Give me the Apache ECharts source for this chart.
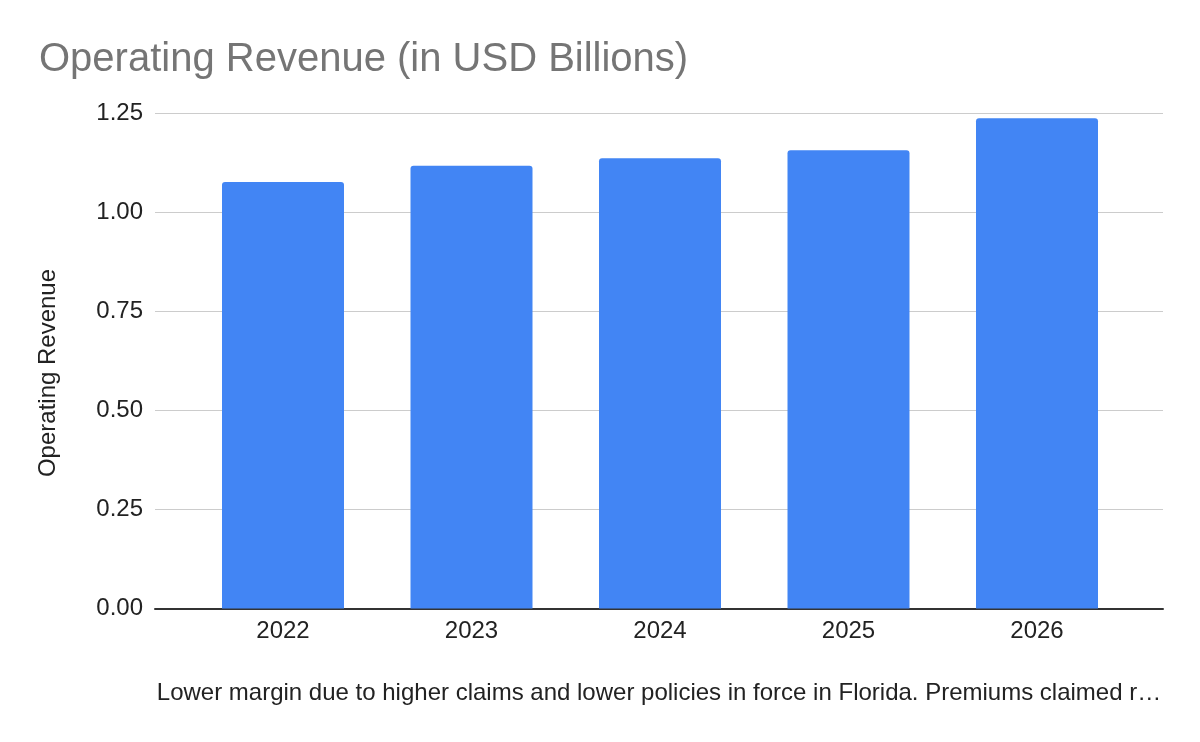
<!DOCTYPE html>
<html>
<head>
<meta charset="utf-8">
<style>html,body{margin:0;padding:0;background:#fff;}#chart{width:1200px;height:742px;}</style>
<script src="https://cdn.jsdelivr.net/npm/echarts@6/dist/echarts.min.js"></script>
</head>
<body>
<div id="chart"></div>
<script>
const categories = ['2022', '2023', '2024', '2025', '2026'];
const revenue = [1.076, 1.117, 1.136, 1.156, 1.237];
const yTicks = { min: 0, max: 1.25, interval: 0.25 };
const titleText = 'Operating Revenue (in USD Billions)';
const yName = 'Operating Revenue';
const xNote = 'Lower margin due to higher claims and lower policies in force in Florida. Premiums claimed r\u2026';

const FONT = '"Liberation Sans", Arial, sans-serif';
const chart = echarts.init(document.getElementById('chart'), null, { renderer: 'canvas' });
const gTop = 113, gBottom = 133.5;
chart.setOption({
  animation: false,
  backgroundColor: '#ffffff',
  title: {
    text: titleText, left: 34, top: 35,
    textStyle: { fontFamily: FONT, fontSize: 40, fontWeight: 'normal', color: '#757575' }
  },
  graphic: [
    {
      type: 'text', x: 48, y: 373, rotation: Math.PI / 2,
      style: { text: yName, fontFamily: FONT, fontSize: 24, fill: '#222',
        textAlign: 'center', textVerticalAlign: 'middle' }
    }
  ],
  grid: [
    { left: 188.75, right: 68.75, top: gTop, bottom: gBottom },
    { left: 155, right: 37, top: gTop, bottom: gBottom }
  ],
  xAxis: [
    {
      type: 'category', gridIndex: 0, data: categories,
      axisLine: { show: false }, axisTick: { show: false },
      axisLabel: { fontFamily: FONT, fontSize: 24, color: '#222', margin: 11 }
    },
    {
      type: 'value', gridIndex: 1, min: 0, max: 1,
      axisLine: { show: true, lineStyle: { color: '#333', width: 2 } },
      axisTick: { show: false }, axisLabel: { show: false }, splitLine: { show: false },
      name: xNote, nameLocation: 'middle', nameGap: 73,
      nameTextStyle: { fontFamily: FONT, fontSize: 24, color: '#222' }
    }
  ],
  yAxis: [
    {
      type: 'value', gridIndex: 0, min: yTicks.min, max: yTicks.max, interval: yTicks.interval,
      show: false
    },
    {
      type: 'value', gridIndex: 1, min: yTicks.min, max: yTicks.max, interval: yTicks.interval,
      axisLine: { show: false }, axisTick: { show: false },
      axisLabel: { fontFamily: FONT, fontSize: 24, color: '#222', margin: 12,
        formatter: v => v.toFixed(2) },
      splitLine: { lineStyle: { color: '#cccccc', width: 1 } }
    }
  ],
  series: [
    {
      type: 'bar', xAxisIndex: 0, yAxisIndex: 0, data: revenue,
      barWidth: 122, z: 1,
      itemStyle: { color: '#4285F4', borderRadius: [3, 3, 0, 0] }
    }
  ]
});
</script>
</body>
</html>
